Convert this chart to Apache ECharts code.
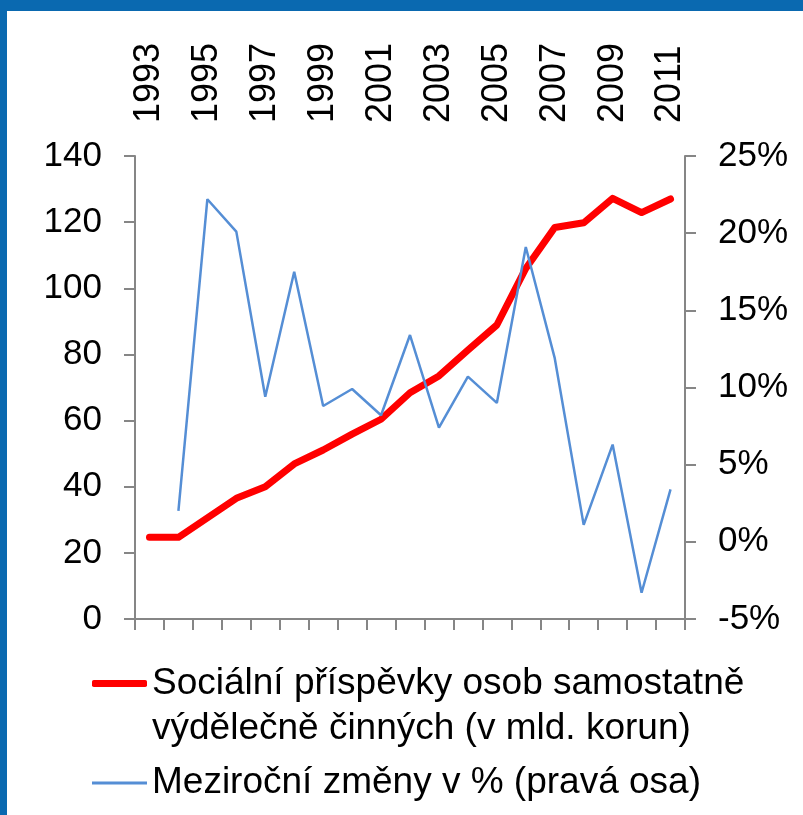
<!DOCTYPE html>
<html>
<head>
<meta charset="utf-8">
<title>Sociální příspěvky OSVČ</title>
<script src="https://cdn.jsdelivr.net/npm/echarts@6/dist/echarts.min.js"></script>
<style>
html, body { margin: 0; padding: 0; background: #fff; }
#wrap { position: relative; width: 803px; height: 815px; overflow: hidden; }
#main { position: absolute; left: 0; top: 0; width: 803px; height: 815px; }
.bar-top { position: absolute; left: 0; top: 0; width: 803px; height: 11px; background: #0A69B0; }
.bar-left { position: absolute; left: 0; top: 0; width: 7px; height: 815px; background: #0A69B0; }
</style>
</head>
<body>
<div id="wrap">
	<div id="main"></div>
	<div class="bar-top"></div>
	<div class="bar-left"></div>
</div>
<script>
// roky
var years = ['1993','1994','1995','1996','1997','1998','1999','2000','2001','2002',
	'2003','2004','2005','2006','2007','2008','2009','2010','2011'];
// socialni prispevky OSVC (mld. Kc)
var prispevky = [24.7, 24.7, 30.6, 36.5, 40.0, 46.9, 51.1, 55.9, 60.4, 68.4,
	73.5, 81.3, 88.9, 106.0, 118.4, 119.8, 127.2, 122.9, 127.0];
// mezirocni zmeny v %
var zmeny = [null, 2.0, 22.2, 20.1, 9.4, 17.5, 8.8, 9.9, 8.2, 13.4,
	7.4, 10.7, 9.0, 19.1, 11.9, 1.1, 6.3, -3.3, 3.4];

var name1 = 'Sociální příspěvky osob samostatně\nvýdělečně činných (v mld. korun)';
var name2 = 'Meziroční změny v % (pravá osa)';

var font = '"Liberation Sans", Arial, sans-serif';
var axisGray = '#868686';

var myChart = echarts.init(document.getElementById('main'));
var option = {
	animation: false,
	textStyle: { fontFamily: font },
	grid: { left: 135, right: 118, top: 156, bottom: 196, containLabel: false },
	legend: [{
		// prazdny prvni radek -> ikona zarovnana s prvnim radkem textu
		data: [{ name: name1, icon: 'roundRect' }],
		formatter: function (n) { return '\n' + n; },
		left: 92,
		top: 616,
		orient: 'vertical',
		padding: 0,
		itemWidth: 55,
		itemHeight: 7,
		textStyle: { fontSize: 37, color: '#000', lineHeight: 45, fontFamily: font }
	}, {
		data: [{ name: name2, icon: 'rect' }],
		left: 92,
		top: 761,
		orient: 'vertical',
		padding: 0,
		itemWidth: 55,
		itemHeight: 3,
		textStyle: { fontSize: 37, color: '#000', lineHeight: 44, fontFamily: font }
	}],
	xAxis: [{
		type: 'category',
		position: 'bottom',
		data: years,
		axisLine: { show: true, lineStyle: { color: axisGray, width: 2 } },
		axisTick: { show: true, interval: 0, length: 11, lineStyle: { color: axisGray, width: 2 } },
		axisLabel: { show: false }
	}, {
		type: 'category',
		position: 'top',
		data: years,
		axisLine: { show: false },
		axisTick: { show: false },
		axisLabel: { show: true, interval: 1, rotate: 90, margin: 33, fontSize: 36, color: '#000', fontFamily: font }
	}],
	yAxis: [{
		type: 'value',
		min: 0,
		max: 140,
		interval: 20,
		axisLine: { show: true, lineStyle: { color: axisGray, width: 2 } },
		axisTick: { show: true, length: 11, lineStyle: { color: axisGray, width: 2 } },
		axisLabel: { margin: 33, fontSize: 35, color: '#000', fontFamily: font },
		splitLine: { show: false }
	}, {
		type: 'value',
		position: 'right',
		min: -5,
		max: 25,
		interval: 5,
		axisLine: { show: true, lineStyle: { color: axisGray, width: 2 } },
		axisTick: { show: true, length: 11, lineStyle: { color: axisGray, width: 2 } },
		axisLabel: { margin: 33, fontSize: 35, color: '#000', fontFamily: font, formatter: '{value}%' },
		splitLine: { show: false }
	}],
	series: [{
		name: name1,
		type: 'line',
		xAxisIndex: 0,
		yAxisIndex: 0,
		data: prispevky,
		symbol: 'none',
		lineStyle: { color: '#FF0000', width: 7, cap: 'round', join: 'round' },
		itemStyle: { color: '#FF0000' },
		z: 3
	}, {
		name: name2,
		type: 'line',
		xAxisIndex: 0,
		yAxisIndex: 1,
		data: zmeny,
		symbol: 'none',
		lineStyle: { color: '#558ED5', width: 2.5 },
		itemStyle: { color: '#558ED5' },
		z: 4
	}]
};
myChart.setOption(option);
</script>
</body>
</html>
